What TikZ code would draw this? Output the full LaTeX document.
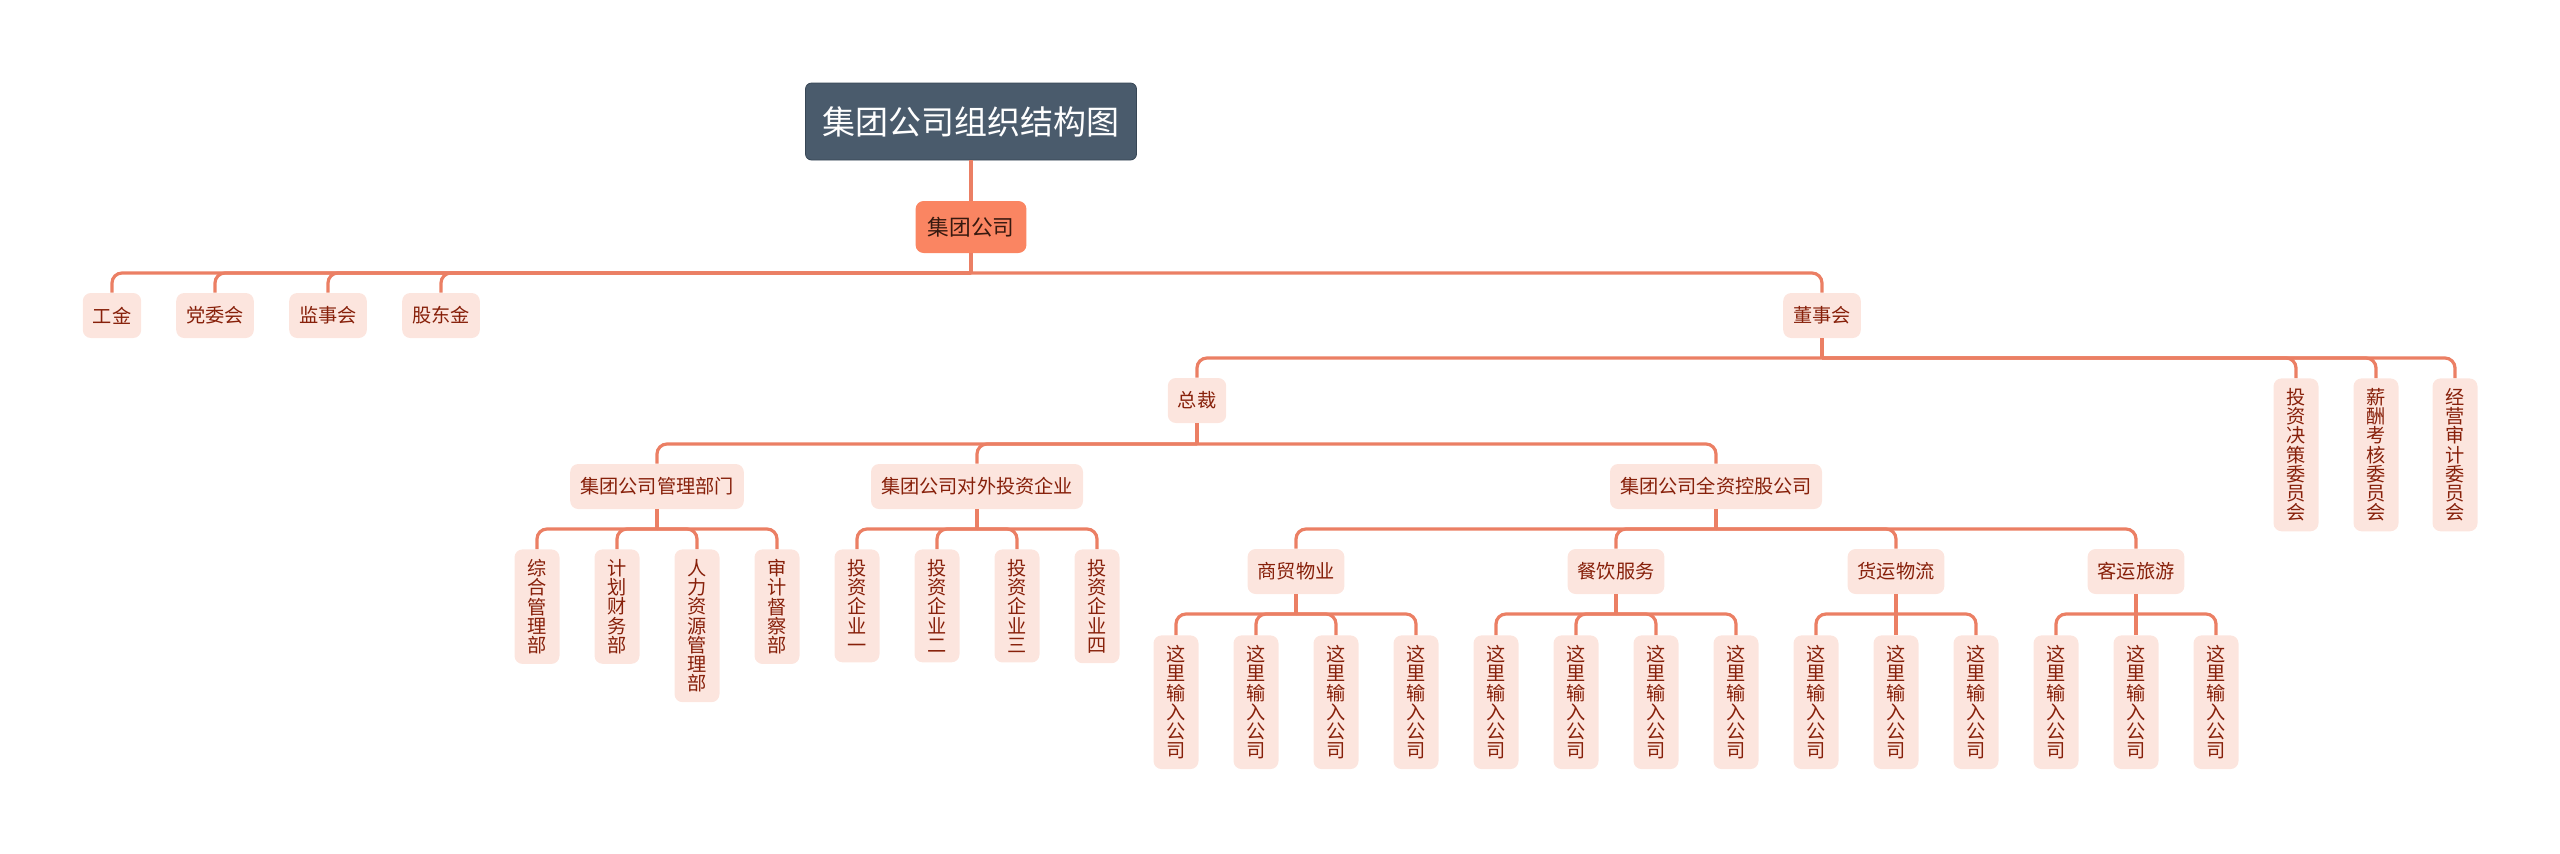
\documentclass[tikz,border=0pt]{standalone}
\usepackage{fontspec}
\setmainfont{Noto Sans CJK SC}
\usepackage{tikz}

\definecolor{linkc}{RGB}{235,127,100}
\definecolor{boxfill}{RGB}{252,229,222}
\definecolor{boxtext}{RGB}{135,32,10}
\definecolor{rootc}{RGB}{250,133,98}
\definecolor{roottext}{RGB}{55,25,15}
\definecolor{titlec}{RGB}{74,91,108}
\definecolor{titleline}{RGB}{55,70,85}

\begin{document}
\begin{tikzpicture}[
  x=0.5pt, y=-0.5pt,
  link/.style={draw=linkc, line width=1.6pt, rounded corners=5pt},
  hbox/.style={fill=boxfill, text=boxtext, rounded corners=4pt, inner xsep=5pt, inner ysep=0pt,
               minimum height=22.5pt, font=\fontsize{9.6}{9.6}\selectfont},
  vbox/.style={hbox, align=center, anchor=north, inner ysep=5pt, minimum height=0pt, minimum width=22.5pt},
]
\useasboundingbox (0,0) rectangle (2560,853);

% 标题 + 根
\node[fill=titlec, draw=titleline, text=white, rounded corners=3pt, font=\fontsize{16.5}{16.5}\selectfont,
      minimum width=165.5pt, minimum height=38.5pt] (title) at (971,121.5) {集团公司组织结构图};
\node[hbox, fill=rootc, text=roottext, font=\fontsize{10.85}{10.85}\selectfont,
      inner xsep=6pt, minimum height=26pt] (jt) at (971,227) {集团公司};
\draw[link] (title.south) -- (jt.north);

% 第一层（y 像素，向下为正）
\node[hbox] (gj)  at (112,315.5)  {工金};
\node[hbox] (dwh) at (215,315.5)  {党委会};
\node[hbox] (jsh) at (328,315.5)  {监事会};
\node[hbox] (gdj) at (441,315.5)  {股东金};
\node[hbox] (dsh) at (1822,315.5) {董事会};
\coordinate (b1) at (971,273);
\draw[link] (jt.south) -- (b1);
\foreach \c in {gj,dwh,jsh,gdj,dsh} \draw[link] (b1) -| (\c.north);

% 董事会下属
\node[hbox] (zc)   at (1197,400.5) {总裁};
\node[vbox] (tzjc) at (2296,378) {投\\资\\决\\策\\委\\员\\会};
\node[vbox] (xckh) at (2376,378) {薪\\酬\\考\\核\\委\\员\\会};
\node[vbox] (jysj) at (2455,378) {经\\营\\审\\计\\委\\员\\会};
\coordinate (b2) at (1822,358);
\draw[link] (dsh.south) -- (b2);
\foreach \c in {zc,tzjc,xckh,jysj} \draw[link] (b2) -| (\c.north);

% 总裁下属
\node[hbox] (glbm) at (657,486.5)  {集团公司管理部门};
\node[hbox] (dwtz) at (977,486.5)  {集团公司对外投资企业};
\node[hbox] (qzkg) at (1716,486.5) {集团公司全资控股公司};
\coordinate (b3) at (1197,444);
\draw[link] (zc.south) -- (b3);
\foreach \c in {glbm,dwtz,qzkg} \draw[link] (b3) -| (\c.north);

% 管理部门 / 对外投资
\node[vbox] (zhgl) at (537,549) {综\\合\\管\\理\\部};
\node[vbox] (jhcw) at (617,549) {计\\划\\财\\务\\部};
\node[vbox] (rlzy) at (697,549) {人\\力\\资\\源\\管\\理\\部};
\node[vbox] (sjdc) at (777,549) {审\\计\\督\\察\\部};
\node[vbox] (tz1)  at (857,549) {投\\资\\企\\业\\一};
\node[vbox] (tz2)  at (937,549) {投\\资\\企\\业\\二};
\node[vbox] (tz3)  at (1017,549) {投\\资\\企\\业\\三};
\node[vbox] (tz4)  at (1097,549) {投\\资\\企\\业\\四};
\coordinate (b4a) at (657,529);
\coordinate (b4b) at (977,529);
\draw[link] (glbm.south) -- (b4a);
\draw[link] (dwtz.south) -- (b4b);
\foreach \c in {zhgl,jhcw,rlzy,sjdc} \draw[link] (b4a) -| (\c.north);
\foreach \c in {tz1,tz2,tz3,tz4} \draw[link] (b4b) -| (\c.north);

% 全资控股下属
\node[hbox] (smwy) at (1296,571.5) {商贸物业};
\node[hbox] (cyfw) at (1616,571.5) {餐饮服务};
\node[hbox] (hywl) at (1896,571.5) {货运物流};
\node[hbox] (kyly) at (2136,571.5) {客运旅游};
\coordinate (b4c) at (1716,529);
\draw[link] (qzkg.south) -- (b4c);
\foreach \c in {smwy,cyfw,hywl,kyly} \draw[link] (b4c) -| (\c.north);

% 末级公司，间距 80px
\foreach \i in {0,...,13}
  \node[vbox] (ly\i) at ({1176+80*\i},635) {这\\里\\输\\入\\公\\司};
\coordinate (b5a) at (1296,614);
\coordinate (b5b) at (1616,614);
\coordinate (b5c) at (1896,614);
\coordinate (b5d) at (2136,614);
\draw[link] (smwy.south) -- (b5a);
\draw[link] (cyfw.south) -- (b5b);
\draw[link] (hywl.south) -- (b5c);
\draw[link] (kyly.south) -- (b5d);
\foreach \i in {0,...,3}   \draw[link] (b5a) -| (ly\i.north);
\foreach \i in {4,...,7}   \draw[link] (b5b) -| (ly\i.north);
\foreach \i in {8,...,10}  \draw[link] (b5c) -| (ly\i.north);
\foreach \i in {11,...,13} \draw[link] (b5d) -| (ly\i.north);
\end{tikzpicture}
\end{document}
